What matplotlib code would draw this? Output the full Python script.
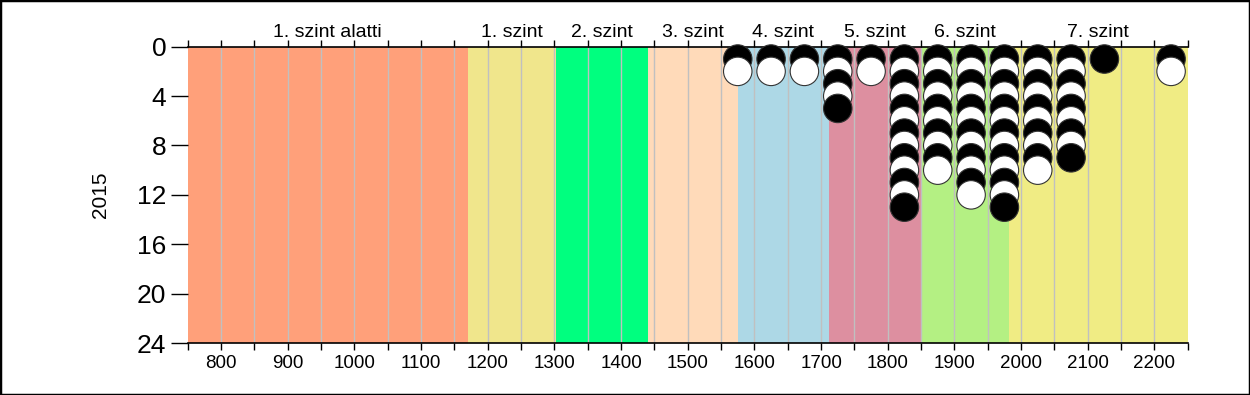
import matplotlib
matplotlib.use("Agg")
import matplotlib.pyplot as plt
from matplotlib.patches import Rectangle

plt.rcParams['font.family'] = ['Liberation Sans', 'DejaVu Sans']

# level bands (x range) and their colours
band_labels = ['1. szint alatti', '1. szint', '2. szint', '3. szint',
               '4. szint', '5. szint', '6. szint', '7. szint']
band_edges = [750, 1170, 1302, 1440, 1575, 1712, 1850, 1982, 2250]
band_colors = ['#ffa07a', '#f0e68c', '#00ff7f', '#ffdab9',
               '#add8e6', '#dd8fa0', '#b4f083', '#f0ec84']

# stacked circles: column centre and number of circles in it
col_x = [1575, 1625, 1675, 1725, 1775, 1825, 1875, 1925, 1975, 2025, 2075, 2125, 2225]
col_n = [2, 2, 2, 5, 2, 13, 10, 12, 13, 10, 9, 1, 2]

x_ticks = list(range(800, 2201, 100))
y_ticks = [0, 4, 8, 12, 16, 20, 24]

fig = plt.figure(figsize=(12.5, 3.95), dpi=100)
ax = fig.add_axes([0.1502, 0.1316, 0.8, 0.7502])

for i in range(len(band_labels)):
    ax.axvspan(band_edges[i], band_edges[i + 1], color=band_colors[i], lw=0, zorder=0.2)
    mid = (band_edges[i] + band_edges[i + 1]) / 2
    ax.annotate(band_labels[i], xy=(mid, 1), xycoords=('data', 'axes fraction'),
                xytext=(0, 7), textcoords='offset points',
                ha='center', va='baseline', fontsize=14)

for x in range(800, 2201, 50):
    ax.axvline(x, color='#c0c0c0', lw=1, zorder=0.5)

xs, ys, cs = [], [], []
for x, n in zip(col_x, col_n):
    for k in range(1, n + 1):
        xs.append(x)
        ys.append(k)
        cs.append('black' if k % 2 == 1 else 'white')
ax.scatter(xs, ys, s=420, c=cs, edgecolors='#333333', linewidths=0.8,
           zorder=3, clip_on=False)

ax.set_xlim(750, 2250)
ax.set_ylim(24, 0)
ax.set_xticks(x_ticks)
ax.set_xticks(list(range(750, 2251, 50)), minor=True)
ax.set_yticks(y_ticks)
ax.tick_params(axis='x', which='both', top=True, direction='out', length=5,
               width=1, labelsize=13.5)
ax.tick_params(axis='y', length=12, width=1, labelsize=19)

for side in ['left', 'right']:
    ax.spines[side].set_visible(False)
for side in ['top', 'bottom']:
    ax.spines[side].set_linewidth(1.2)

ax.set_ylabel('2015', fontsize=15)
ax.yaxis.set_label_coords(-0.078, 0.5)

fig.patches.append(Rectangle((0, 0), 1, 1, transform=fig.transFigure,
                             fill=False, edgecolor='black', lw=2.5))

fig.savefig('out.png', dpi=100)
